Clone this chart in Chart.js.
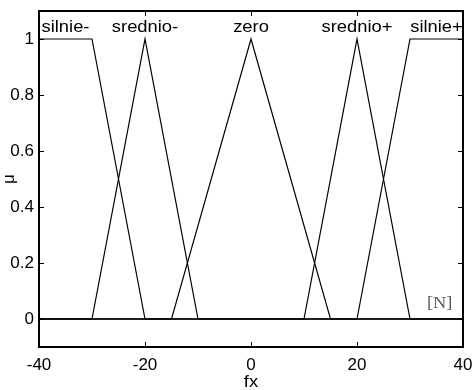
<!DOCTYPE html>
<html>
<head>
<meta charset="utf-8">
<script src="https://cdn.jsdelivr.net/npm/chart.js@4/dist/chart.umd.min.js"></script>
<style>
  body { margin: 0; background: #fff; }
  #wrap { width: 474px; height: 390px; }
</style>
</head>
<body>
<div id="wrap"><canvas id="mfChart" width="474" height="390"></canvas></div>
<script>
// membership function names and where their labels sit
const mfNames = ["silnie-", "srednio-", "zero", "srednio+", "silnie+"];
const labelX = [-35, -20, 0, 20, 35];
const labelY = 1.04;

// breakpoints of each membership function (x, mu)
const silnieMinusX = [-40, -30, -20, 40];
const silnieMinusY = [1, 1, 0, 0];
const sredMinusX = [-40, -30, -20, -10, 40];
const sredMinusY = [0, 0, 1, 0, 0];
const zeroX = [-40, -15, 0, 15, 40];
const zeroY = [0, 0, 1, 0, 0];
const sredPlusX = [-40, 10, 20, 30, 40];
const sredPlusY = [0, 0, 1, 0, 0];
const silniePlusX = [-40, 20, 30, 40];
const silniePlusY = [0, 0, 1, 1];

// axis ticks
const xTicks = [-40, -20, 0, 20, 40];
const yTicks = [0, 0.2, 0.4, 0.6, 0.8, 1];

const FONT = "'Liberation Sans', Arial, Helvetica, sans-serif";

function pts(xs, ys) {
    return xs.map((x, i) => ({ x: x, y: ys[i] }));
}

const series = [
    pts(silnieMinusX, silnieMinusY),
    pts(sredMinusX, sredMinusY),
    pts(zeroX, zeroY),
    pts(sredPlusX, sredPlusY),
    pts(silniePlusX, silniePlusY)
];

// text a bit wider, like the original printout
function wideText(ctx, txt, x, y) {
    ctx.save();
    ctx.translate(x, y);
    ctx.scale(1.08, 1);
    ctx.fillText(txt, 0, 0);
    ctx.restore();
}

// box, inward ticks and text in MATLAB style
const matlabBox = {
    id: "matlabBox",
    afterDatasetsDraw(chart) {
        const ctx = chart.ctx;
        const a = chart.chartArea;
        const xs = chart.scales.x;
        const ys = chart.scales.y;
        ctx.save();
        ctx.strokeStyle = "#000";
        ctx.lineWidth = 2;
        ctx.strokeRect(a.left, a.top, a.right - a.left, a.bottom - a.top);

        ctx.lineWidth = 1;
        ctx.beginPath();
        xTicks.forEach(v => {
            const px = Math.round(xs.getPixelForValue(v)) + 0.5;
            ctx.moveTo(px, a.bottom); ctx.lineTo(px, a.bottom - 5);
            ctx.moveTo(px, a.top); ctx.lineTo(px, a.top + 5);
        });
        yTicks.forEach(v => {
            const py = Math.round(ys.getPixelForValue(v)) + 0.5;
            ctx.moveTo(a.left, py); ctx.lineTo(a.left + 5, py);
            ctx.moveTo(a.right, py); ctx.lineTo(a.right - 5, py);
        });
        ctx.stroke();

        // mf names
        ctx.fillStyle = "#000";
        ctx.font = "17px " + FONT;
        ctx.textAlign = "center";
        ctx.textBaseline = "middle";
        mfNames.forEach((n, i) => {
            wideText(ctx, n, xs.getPixelForValue(labelX[i]), ys.getPixelForValue(labelY));
        });

        // unit note
        ctx.fillStyle = "#5a5a5a";
        ctx.font = "17px 'Liberation Serif', 'Times New Roman', serif";
        wideText(ctx, "[N]", xs.getPixelForValue(35.6), ys.getPixelForValue(0.055));

        // axis titles
        ctx.fillStyle = "#000";
        ctx.font = "17px " + FONT;
        wideText(ctx, "fx", (a.left + a.right) / 2, 382);
        ctx.translate(9, (a.top + a.bottom) / 2);
        ctx.rotate(-Math.PI / 2);
        ctx.fillText("\u03bc", 0, 0);
        ctx.restore();
    }
};

new Chart(document.getElementById("mfChart"), {
    type: "scatter",
    data: {
        datasets: series.map((d, i) => ({
            label: mfNames[i],
            data: d,
            showLine: true,
            borderColor: "#000",
            borderWidth: 1.2,
            pointRadius: 0,
            fill: false
        }))
    },
    options: {
        responsive: false,
        animation: false,
        devicePixelRatio: 1,
        layout: { padding: { top: 11, right: 11, left: 0, bottom: 0 } },
        plugins: {
            legend: { display: false },
            tooltip: { enabled: false }
        },
        scales: {
            x: {
                type: "linear",
                min: -40,
                max: 40,
                afterBuildTicks: s => { s.ticks = xTicks.map(v => ({ value: v })); },
                afterFit: s => { s.height = 43; s.paddingLeft = 0; s.paddingRight = 0; },
                grid: { display: false, drawTicks: false },
                border: { display: false },
                ticks: { color: "#000", font: { family: FONT, size: 17 }, padding: 8, maxRotation: 0 }
            },
            y: {
                type: "linear",
                min: -0.1,
                max: 1.1,
                afterBuildTicks: s => { s.ticks = yTicks.map(v => ({ value: v })); },
                afterFit: s => { s.width = 39; s.paddingTop = 0; s.paddingBottom = 0; },
                grid: { display: false, drawTicks: false },
                border: { display: false },
                ticks: {
                    color: "#000",
                    font: { family: FONT, size: 17 },
                    padding: 5,
                    callback: v => String(+v.toFixed(1))
                }
            }
        }
    },
    plugins: [matlabBox]
});
</script>
</body>
</html>
